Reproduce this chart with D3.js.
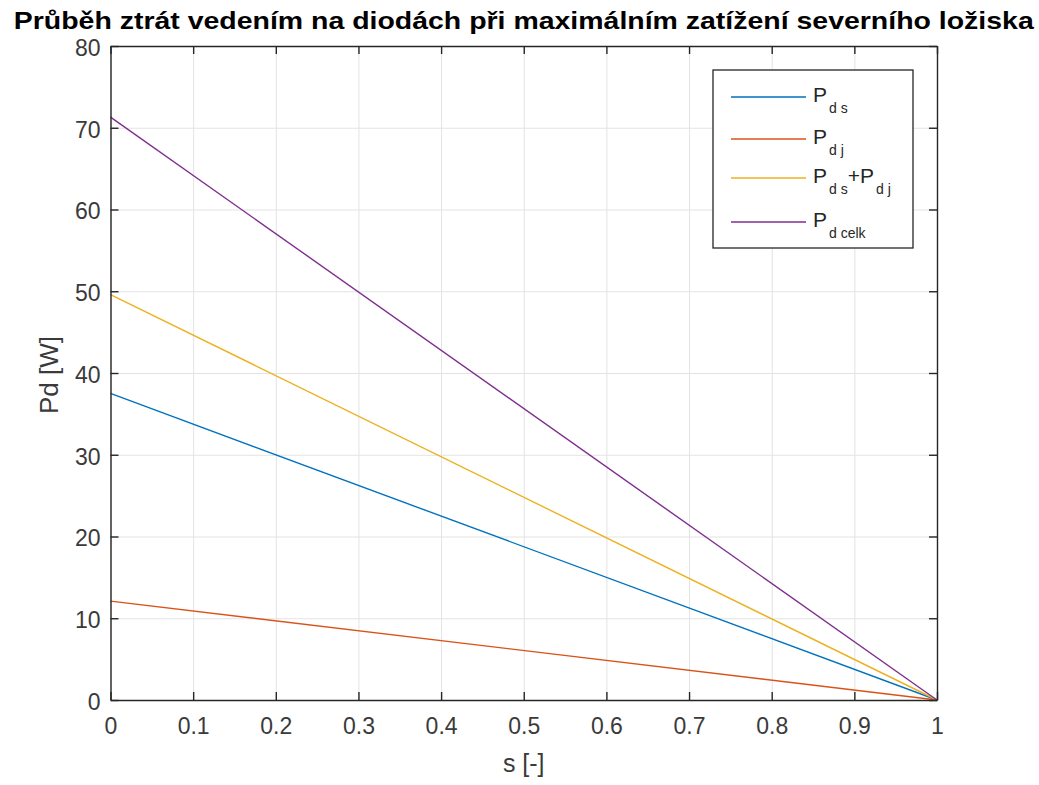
<!DOCTYPE html>
<html>
<head>
<meta charset="utf-8">
<script src="https://cdn.jsdelivr.net/npm/d3@7"></script>
<style>
  body { margin: 0; background: #fff; }
  svg { font-family: "Liberation Sans", Arial, sans-serif; }
  .grid line { stroke: #e3e3e3; }
  .grid .domain { display: none; }
</style>
</head>
<body>
<div id="chart"></div>
<script>
// data
const sValues = [0, 1];
const seriesKeys = ['Pds', 'Pdj', 'PdsPdj', 'Pdcelk'];
const pdsValues = [37.5, 0];
const pdjValues = [12.1, 0];
const pdsPdjValues = [49.6, 0];
const pdCelkValues = [71.3, 0];
const xTicks = [0, 0.1, 0.2, 0.3, 0.4, 0.5, 0.6, 0.7, 0.8, 0.9, 1];
const yTicks = [0, 10, 20, 30, 40, 50, 60, 70, 80];
const colors = ['#0072BD', '#D95319', '#EDB120', '#7E2F8E'];
// legend labels: main letter + subscript parts
const legendLabels = [
  [['P', ''], ['d s', 'sub']],
  [['P', ''], ['d j', 'sub']],
  [['P', ''], ['d s', 'sub'], ['+P', ''], ['d j', 'sub']],
  [['P', ''], ['d celk', 'sub']],
];

const width = 1039, height = 785;
const margin = { top: 46, right: 102, bottom: 85, left: 110.5 };
const innerW = width - margin.left - margin.right;
const innerH = height - margin.top - margin.bottom;

const svg = d3.select('#chart').append('svg')
  .attr('width', width)
  .attr('height', height);

const x = d3.scaleLinear().domain([0, 1]).range([0, innerW]);
const y = d3.scaleLinear().domain([0, 80]).range([innerH, 0]);

const chart = svg.append('g')
  .attr('transform', `translate(${margin.left}, ${margin.top})`);

// grid lines
chart.append('g').attr('class', 'grid')
  .attr('transform', `translate(0, ${innerH})`)
  .call(d3.axisBottom(x).tickValues(xTicks).tickSize(-innerH).tickFormat(''));
chart.append('g').attr('class', 'grid')
  .call(d3.axisLeft(y).tickValues(yTicks).tickSize(-innerW).tickFormat(''));

// series
const series = [pdsValues, pdjValues, pdsPdjValues, pdCelkValues].map((vals, i) => ({
  key: seriesKeys[i],
  points: sValues.map((s, j) => [s, vals[j]]),
}));

const line = d3.line().x(d => x(d[0])).y(d => y(d[1]));

chart.selectAll('.series')
  .data(series)
  .join('path')
  .attr('class', 'series')
  .attr('fill', 'none')
  .attr('stroke', (d, i) => colors[i])
  .attr('stroke-width', 1.4)
  .attr('d', d => line(d.points));

// axes, ticks pointing inward on all sides
const styleAxis = g => {
  g.select('.domain').attr('stroke', '#262626').attr('stroke-width', 1.4);
  g.selectAll('.tick line').attr('stroke', '#262626').attr('stroke-width', 1.4);
  g.selectAll('.tick text').attr('fill', '#3a3a3a')
    .style('font-size', '23px');
};

chart.append('g')
  .attr('transform', `translate(0, ${innerH})`)
  .call(d3.axisBottom(x).tickValues(xTicks).tickSizeInner(-8).tickSizeOuter(0)
    .tickPadding(18).tickFormat(d3.format('')))
  .call(styleAxis);

chart.append('g')
  .call(d3.axisLeft(y).tickValues(yTicks).tickSizeInner(-8).tickSizeOuter(0)
    .tickPadding(10))
  .call(styleAxis)
  .call(g => g.selectAll('.tick text').attr('y', 2));

chart.append('g')
  .call(d3.axisTop(x).tickValues(xTicks).tickSizeInner(-8).tickSizeOuter(0).tickFormat(''))
  .call(styleAxis);

chart.append('g')
  .attr('transform', `translate(${innerW}, 0)`)
  .call(d3.axisRight(y).tickValues(yTicks).tickSizeInner(-8).tickSizeOuter(0).tickFormat(''))
  .call(styleAxis);

// title
svg.append('text')
  .attr('x', margin.left + innerW / 2)
  .attr('y', 29)
  .attr('text-anchor', 'middle')
  .attr('textLength', 1020)
  .attr('lengthAdjust', 'spacingAndGlyphs')
  .style('font-size', '24px')
  .style('font-weight', 'bold')
  .attr('fill', '#000')
  .text('Průběh ztrát vedením na diodách při maximálním zatížení severního ložiska');

// axis labels
svg.append('text')
  .attr('x', margin.left + innerW / 2)
  .attr('y', 772)
  .attr('text-anchor', 'middle')
  .style('font-size', '25px')
  .attr('fill', '#3a3a3a')
  .text('s [-]');

svg.append('text')
  .attr('transform', `translate(58, ${margin.top + innerH / 2 + 2}) rotate(-90)`)
  .attr('text-anchor', 'middle')
  .style('font-size', '26px')
  .attr('fill', '#3a3a3a')
  .text('Pd [W]');

// legend
const legend = svg.append('g').attr('transform', 'translate(713, 70)');
legend.append('rect')
  .attr('width', 200).attr('height', 178)
  .attr('fill', '#fff')
  .attr('stroke', '#262626').attr('stroke-width', 1.3);

const rowY = [27, 69, 108, 152];
const items = legend.selectAll('.item')
  .data(legendLabels)
  .join('g')
  .attr('class', 'item')
  .attr('transform', (d, i) => `translate(0, ${rowY[i]})`);

items.append('line')
  .attr('x1', 18).attr('x2', 93)
  .attr('stroke', (d, i) => colors[i])
  .attr('stroke-width', 1.4);

const labels = items.append('text')
  .attr('x', 100)
  .attr('y', 5)
  .attr('fill', '#262626')
  .style('font-size', '21px');

labels.selectAll('tspan')
  .data(d => d.map((p, k) => ({ text: p[0], sub: p[1] === 'sub', prevSub: k > 0 && d[k - 1][1] === 'sub' })))
  .join('tspan')
  .style('font-size', d => d.sub ? '14px' : '21px')
  .attr('dy', d => d.sub ? 11 : (d.prevSub ? -11 : 0))
  .attr('dx', d => d.sub ? 2 : 0)
  .text(d => d.text);
</script>
</body>
</html>
